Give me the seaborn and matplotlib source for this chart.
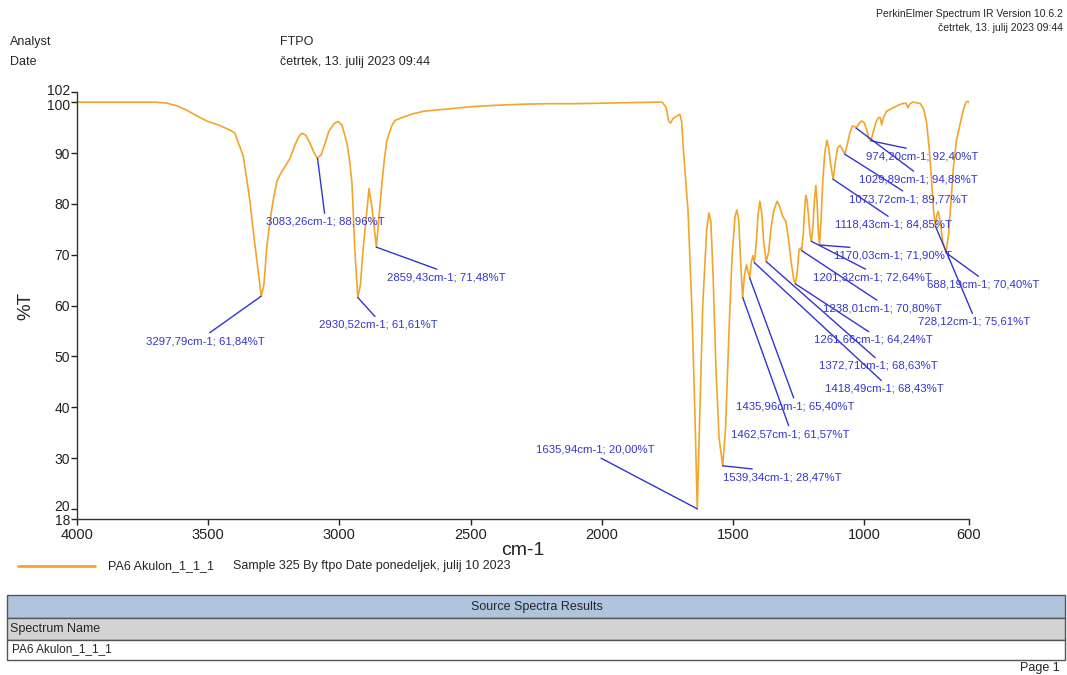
import matplotlib
matplotlib.use('Agg')
import matplotlib.pyplot as plt
import matplotlib.transforms as mtransforms
import seaborn as sns
from matplotlib.patches import Rectangle
from matplotlib.lines import Line2D

# IR spectrum (wavenumber cm-1, %T)
wavenumber = [4000, 3900, 3800, 3700, 3657, 3620, 3581, 3540, 3501, 3460, 3417, 3398,
              3385, 3367, 3355, 3341, 3328, 3314, 3298, 3288, 3276, 3265, 3253, 3238,
              3219, 3205, 3188, 3170, 3155, 3143, 3128, 3112, 3098, 3085, 3070, 3055,
              3040, 3020, 3005, 2990, 2971, 2960, 2952, 2941, 2930, 2920, 2910, 2895,
              2887, 2878, 2872, 2859, 2848, 2838, 2828, 2819, 2800, 2788, 2760, 2720,
              2680, 2600, 2500, 2400, 2300, 2200, 2100, 2000, 1900, 1800, 1770, 1755,
              1745, 1738, 1728, 1710, 1702, 1695, 1690, 1671, 1656, 1645, 1636, 1628,
              1615, 1600, 1591, 1584, 1575, 1565, 1553, 1539, 1528, 1515, 1503, 1492,
              1485, 1478, 1470, 1463, 1456, 1448, 1442, 1436, 1430, 1424, 1418, 1410,
              1404, 1397, 1390, 1382, 1373, 1364, 1355, 1345, 1332, 1322, 1310, 1298,
              1288, 1278, 1268, 1262, 1255, 1248, 1243, 1238, 1232, 1226, 1222, 1217,
              1211, 1206, 1201, 1195, 1189, 1184, 1179, 1174, 1170, 1164, 1158, 1150,
              1142, 1135, 1127, 1118, 1110, 1101, 1092, 1083, 1074, 1065, 1055, 1045,
              1036, 1030, 1022, 1010, 1000, 990, 982, 974, 966, 955, 945, 938, 933,
              926, 915, 900, 885, 870, 855, 840, 833, 826, 815, 800, 785, 772, 762,
              752, 742, 735, 728, 722, 717, 710, 700, 688, 678, 668, 660, 648, 635,
              620, 612, 604, 600]
transmittance = [100.0, 100.0, 100.0, 100.0, 99.8, 99.3, 98.4, 97.2, 96.2, 95.5, 94.5, 93.9,
                 92.0, 89.5, 85.5, 80.5, 74.5, 68.6, 61.84, 64.0, 71.8, 76.5, 80.5, 84.5,
                 86.4, 87.5, 89.0, 91.5, 93.2, 93.9, 93.5, 91.9, 90.2, 89.0, 89.6, 91.8,
                 94.3, 95.8, 96.2, 95.5, 91.9, 88.0, 84.0, 70.8, 61.61, 64.0, 70.8, 78.7,
                 83.0, 80.0, 77.5, 71.48, 78.0, 84.0, 89.0, 92.5, 95.4, 96.4, 97.0, 97.7,
                 98.2, 98.6, 99.1, 99.4, 99.6, 99.7, 99.7, 99.8, 99.9, 100.0, 100.0, 99.0,
                 96.3, 95.9, 96.8, 97.4, 97.6, 96.0, 91.5, 78.5, 58.8, 39.0, 20.00, 35.0,
                 60.0, 75.0, 78.2, 76.5, 65.0, 48.0, 34.0, 28.47, 36.0, 55.0, 70.0, 77.5,
                 78.8, 77.0, 68.0, 61.57, 66.0, 68.0, 66.5, 65.40, 68.5, 69.8, 68.43, 73.0,
                 78.0, 80.5, 78.0, 72.0, 68.63, 70.5, 75.0, 78.5, 80.5, 79.5, 77.5, 76.5,
                 73.0, 68.5, 65.0, 64.24, 66.5, 71.0, 71.3, 70.80, 74.0, 79.5, 81.7, 80.5,
                 77.0, 74.0, 72.64, 75.5, 81.0, 83.6, 80.0, 74.0, 71.90, 77.0, 84.0, 90.0,
                 92.5, 91.0, 87.5, 84.85, 88.0, 91.0, 91.5, 90.8, 89.77, 91.5, 93.8, 95.3,
                 95.2, 94.88, 95.6, 96.3, 96.0, 94.5, 92.9, 92.40, 94.0, 96.0, 97.0, 96.9,
                 95.5, 97.0, 98.2, 98.6, 99.0, 99.4, 99.7, 99.8, 98.9, 99.6, 100.0, 99.9,
                 99.7, 98.5, 96.0, 91.0, 84.0, 78.5, 75.61, 78.0, 78.5, 76.5, 72.5, 70.40,
                 74.0, 81.0, 87.0, 92.5, 95.5, 98.8, 100.0, 100.2, 99.9]

# picked peaks
peak_wn = [3297.79, 3083.26, 2930.52, 2859.43, 1635.94, 1539.34, 1462.57, 1435.96,
           1418.49, 1372.71, 1261.66, 1238.01, 1201.32, 1170.03, 1118.43, 1073.72,
           1029.89, 974.20, 728.12, 688.19]
peak_t = [61.84, 88.96, 61.61, 71.48, 20.00, 28.47, 61.57, 65.40,
          68.43, 68.63, 64.24, 70.80, 72.64, 71.90, 84.85, 89.77,
          94.88, 92.40, 75.61, 70.40]

# where each peak label sits (wavenumber, %T of label top/bottom centre)
label_xy = [(3512, 54.0), (3055, 77.5), (2853, 57.2), (2594, 66.5), (2026, 30.6),
            (1310, 27.2), (1283, 35.7), (1264, 41.2), (921, 44.6), (944, 49.1),
            (963, 54.2), (932, 60.4), (970, 66.5), (890, 70.8), (890, 76.9),
            (833, 81.9), (795, 85.8), (780, 90.3), (582, 57.8), (547, 65.1)]

x_ticks = [4000, 3500, 3000, 2500, 2000, 1500, 1000, 600]
y_ticks = [18, 20, 30, 40, 50, 60, 70, 80, 90, 100, 102]

spectrum_name = 'PA6 Akulon_1_1_1'

LINE_COLOR = '#F2A52A'
PEAK_COLOR = '#3434D2'

sns.set_style('ticks')
plt.rcParams['font.family'] = ['Liberation Sans', 'DejaVu Sans']

fig = plt.figure(figsize=(10.67, 6.75), dpi=100)
ax = fig.add_axes([0.0722, 0.2311, 0.836, 0.6326])

sns.lineplot(x=wavenumber, y=transmittance, sort=False, estimator=None,
             color=LINE_COLOR, linewidth=1.2, ax=ax)

ax.set_xlim(4000, 600)
ax.set_ylim(18, 102)
ax.set_xticks(x_ticks)
ax.set_xticklabels([str(t) for t in x_ticks])
ax.set_yticks(y_ticks)
ax.set_yticklabels([str(t) for t in y_ticks])
ax.tick_params(labelsize=10.5, length=4, width=1, colors='#222222', pad=1)
ax.tick_params(axis='x', pad=2.5)
ax.tick_params(axis='y', labelsize=10)
for side in ['left', 'bottom']:
    ax.spines[side].set_color('#333333')
    ax.spines[side].set_linewidth(1)
sns.despine(ax=ax)
ax.set_xlabel('cm-1', fontsize=14, labelpad=0)
ax.set_ylabel('%T', fontsize=13.5, labelpad=9)

# the crowded tick pairs (102/100 and 20/18) are nudged apart a little
nudge = {102: 1.5, 100: -2.0, 20: 2.5, 18: 0.0}
for tick_val, lab in zip(y_ticks, ax.get_yticklabels()):
    if tick_val in nudge:
        lab.set_transform(lab.get_transform() + mtransforms.ScaledTranslation(
            0, nudge[tick_val] / 72, fig.dpi_scale_trans))

# peak labels
for wn, t, (lx, ly) in zip(peak_wn, peak_t, label_xy):
    txt = f"{wn:.2f}".replace('.', ',') + 'cm-1; ' + f"{t:.2f}".replace('.', ',') + '%T'
    below = ly < t
    ax.annotate(txt, xy=(wn, t), xytext=(lx, ly), textcoords='data',
                ha='center', va='top' if below else 'bottom',
                fontsize=8.2, color=PEAK_COLOR, annotation_clip=False,
                arrowprops=dict(arrowstyle='-', color=PEAK_COLOR, lw=1,
                                shrinkA=0, shrinkB=0,
                                relpos=(0.5, 1.0) if below else (0.5, 0.0)))

# header
fig.text(1063 / 1067, 1 - 14 / 675, 'PerkinElmer Spectrum IR Version 10.6.2', ha='right',
         va='center', fontsize=7.5)
fig.text(1063 / 1067, 1 - 28 / 675, 'četrtek, 13. julij 2023 09:44', ha='right',
         va='center', fontsize=7.5)
fig.text(10 / 1067, 1 - 42 / 675, 'Analyst', va='center', fontsize=9)
fig.text(10 / 1067, 1 - 62 / 675, 'Date', va='center', fontsize=9)
fig.text(280 / 1067, 1 - 42 / 675, 'FTPO', va='center', fontsize=9)
fig.text(280 / 1067, 1 - 62 / 675, 'četrtek, 13. julij 2023 09:44', va='center', fontsize=9)

# legend row
fig.add_artist(Line2D([18 / 1067, 95 / 1067], [1 - 566 / 675, 1 - 566 / 675],
                      color=LINE_COLOR, lw=2))
fig.text(108 / 1067, 1 - 566 / 675, spectrum_name, va='center', fontsize=9)
fig.text(233 / 1067, 1 - 566 / 675, 'Sample 325 By ftpo Date ponedeljek, julij 10 2023',
         va='center', fontsize=9)

# results table
def row(y0, y1, color):
    fig.add_artist(Rectangle((7 / 1067, 1 - y1 / 675), 1058 / 1067, (y1 - y0) / 675,
                             transform=fig.transFigure, facecolor=color,
                             edgecolor='#555555', lw=1))

row(595, 618, '#B0C4DE')
row(618, 640, '#D3D3D3')
row(640, 660, 'white')
fig.text(537 / 1067, 1 - 607 / 675, 'Source Spectra Results', ha='center', va='center',
         fontsize=9)
fig.text(10 / 1067, 1 - 629 / 675, 'Spectrum Name', va='center', fontsize=9)
fig.text(12 / 1067, 1 - 649 / 675, spectrum_name, va='center', fontsize=8.5)
fig.text(1060 / 1067, 1 - 668 / 675, 'Page 1', ha='right', va='center', fontsize=9)

fig.savefig('out.png', dpi=100)
